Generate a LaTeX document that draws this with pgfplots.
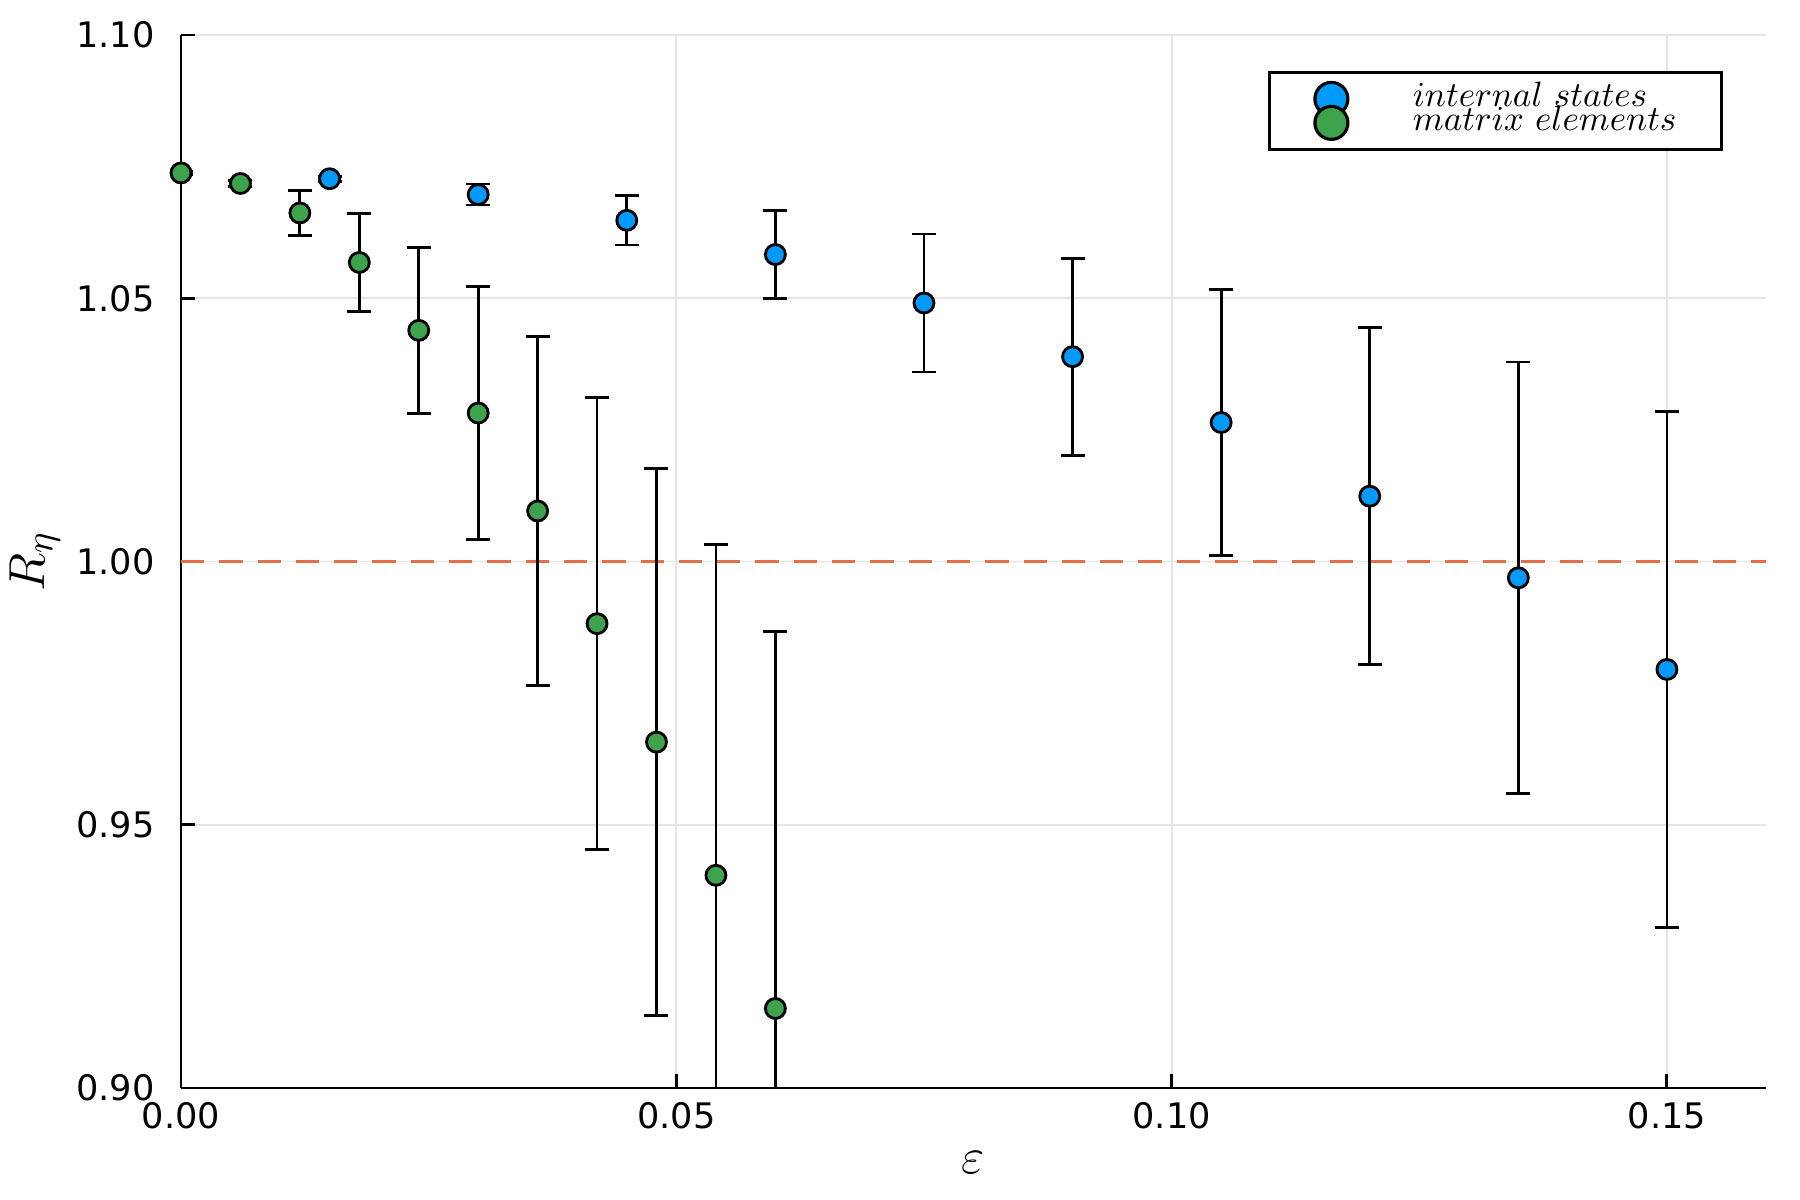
\documentclass[border=0pt]{standalone}
\usepackage{fontspec}
\setmainfont{DejaVu Sans}
\usepackage{pgfplots}
\pgfplotsset{compat=1.18}
\usepackage{pgfplotstable}
\definecolor{jblue}{HTML}{009AFA}
\definecolor{jgreen}{HTML}{3DA44D}
\definecolor{jred}{HTML}{E26F46}

\pgfplotstableread{
x y e
0.015 1.0727 0.0005
0.030 1.0697 0.0020
0.045 1.0648 0.0047
0.060 1.0583 0.0083
0.075 1.0491 0.0131
0.090 1.0389 0.0187
0.105 1.0264 0.0252
0.120 1.0124 0.0320
0.135 0.9969 0.0410
0.150 0.9795 0.0490
}\internaltab

\pgfplotstableread{
x y e
0.000 1.0738 0.0003
0.006 1.0718 0.0005
0.012 1.0662 0.0043
0.018 1.0568 0.0093
0.024 1.0439 0.0158
0.030 1.0282 0.0240
0.036 1.0096 0.0331
0.042 0.9882 0.0429
0.048 0.9657 0.0520
0.054 0.9404 0.0629
0.060 0.9151 0.0716
}\matrixtab

\begin{document}
\begin{tikzpicture}
\begin{axis}[
  scale only axis, width=15.85cm, height=10.53cm,
  xmin=0, xmax=0.16, ymin=0.90, ymax=1.10,
  axis lines*=left,
  axis line style={line width=0.85pt},
  xtick={0,0.05,0.1,0.15}, ytick={0.9,0.95,1,1.05,1.1},
  scaled ticks=false,
  tick align=inside, major tick length=0.14cm,
  tick style={black, line width=0.85pt},
  xticklabel style={yshift=-0.02cm},
  yticklabel style={xshift=-0.14cm},
  ticklabel style={font=\fontsize{10}{12}\selectfont},
  /pgf/number format/fixed,
  /pgf/number format/fixed zerofill,
  /pgf/number format/precision=2,
  /pgf/number format/assume math mode=true,
  grid=major, major grid style={black!10, line width=0.5pt},
  xlabel={$\varepsilon$}, ylabel={$R_\eta$},
  label style={font=\fontsize{15}{15}\selectfont},
  xlabel style={at={(axis description cs:0.5,0)}, anchor=center, yshift=-0.75cm},
  ylabel style={at={(axis description cs:0,0.5)}, anchor=center, yshift=1.46cm},
  legend style={at={(rel axis cs:0.686,0.966)}, anchor=north west, draw=black,
    line width=0.9pt, inner xsep=0.45cm, inner ysep=0.1cm, row sep=-0.09cm, column sep=0.65cm,
    nodes={inner sep=0pt, text height=5.9pt, text depth=1.8pt, font=\fontsize{10}{10}\selectfont}},
  legend cell align=left,
]
\addplot[jred, line width=0.85pt, dash pattern=on 0.233cm off 0.15cm, forget plot] coordinates {(0,1) (0.16,1)};
\coordinate (sw) at (rel axis cs:0,0);

\addplot[forget plot, only marks, mark=*, mark size=0.1cm,
  mark options={draw=black, fill=jblue, line width=0.8pt},
  error bars/.cd, y dir=both, y explicit,
  error bar style={black, line width=0.8pt},
  error mark options={rotate=90, mark size=0.12cm, black, line width=0.8pt}]
  table[x=x, y=y, y error=e] {\internaltab};

\addplot[forget plot, only marks, mark=*, mark size=0.1cm,
  mark options={draw=black, fill=jgreen, line width=0.8pt},
  error bars/.cd, y dir=both, y explicit,
  error bar style={black, line width=0.8pt},
  error mark options={rotate=90, mark size=0.12cm, black, line width=0.8pt}]
  table[x=x, y=y, y error=e] {\matrixtab};

\addlegendimage{only marks, mark=*, mark size=0.165cm, mark options={draw=black, fill=jblue, line width=0.9pt}}
\addlegendentry{$internal\ states$}
\addlegendimage{only marks, mark=*, mark size=0.165cm, mark options={draw=black, fill=jgreen, line width=0.9pt}}
\addlegendentry{$matrix\ elements$}
\end{axis}
\pgfresetboundingbox
\path (sw) ++(-1.81cm,-1.12cm) rectangle ++(18cm,12cm);
\end{tikzpicture}
\end{document}
